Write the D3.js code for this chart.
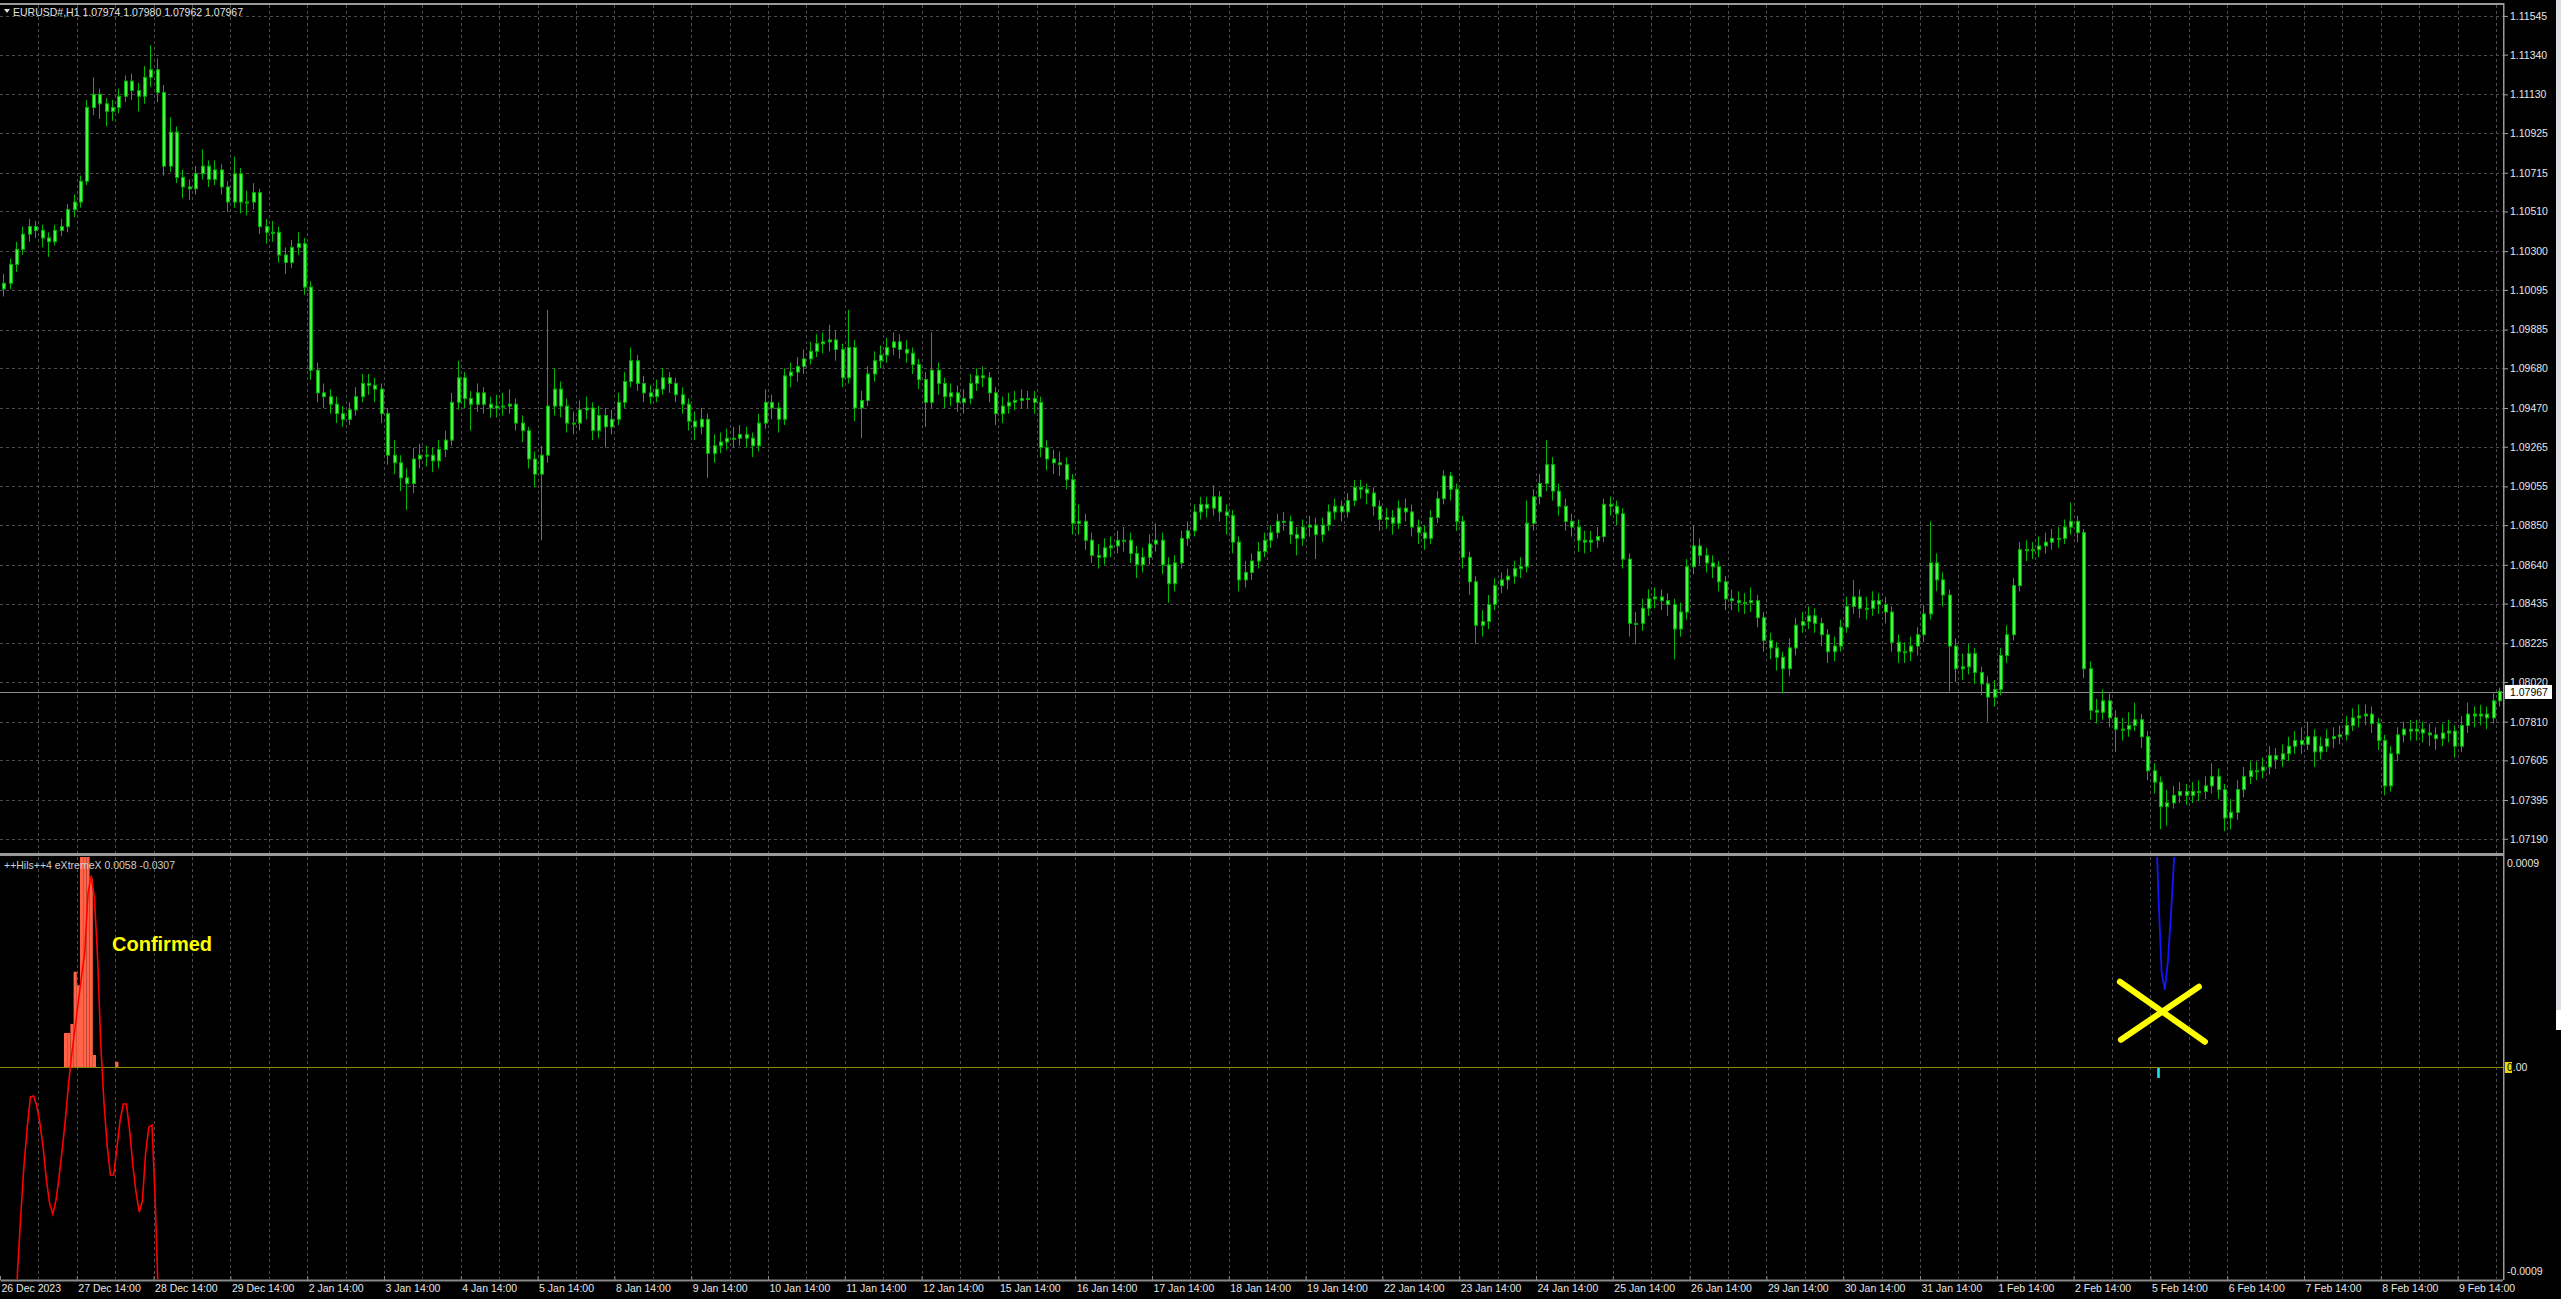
<!DOCTYPE html>
<html>
<head>
<meta charset="utf-8">
<script src="https://cdn.jsdelivr.net/npm/d3@7"></script>
<style>
html, body { margin: 0; padding: 0; background: #000; overflow: hidden; }
svg { display: block; }
text { font-family: "Liberation Sans", Arial, sans-serif; }
</style>
</head>
<body>
<div id="chart"></div>
<script>
// EURUSD# quotes, two H1 bars per candle (open = previous close)
const firstOpen = 1.1010;
const closes = [
  1.1013,1.1023,1.1031,1.1039,1.1043,1.1041,1.1037,1.1035,1.1041,1.1043,
  1.1052,1.1056,1.1067,1.1106,1.1113,1.1108,1.1104,1.1106,1.1112,1.1120,
  1.1115,1.1112,1.1122,1.1126,1.1114,1.1075,1.1093,1.1069,1.1064,1.1063,
  1.1071,1.1075,1.1068,1.1073,1.1064,1.1056,1.1071,1.1056,1.1056,1.1061,
  1.1043,1.1040,1.1040,1.1028,1.1024,1.1032,1.1034,1.1011,1.0967,1.0955,
  1.0953,1.0949,1.0944,1.0941,1.0946,1.0953,1.0960,1.0959,1.0957,1.0944,
  1.0922,1.0918,1.0910,1.0907,1.0920,1.0922,1.0922,1.0919,1.0925,1.0930,
  1.0950,1.0963,1.0952,1.0949,1.0955,1.0949,1.0947,1.0948,1.0948,1.0949,
  1.0939,1.0935,1.0920,1.0912,1.0922,1.0948,1.0957,1.0948,1.0939,1.0939,
  1.0946,1.0947,1.0935,1.0943,1.0937,1.0941,1.0950,1.0961,1.0972,1.0960,
  1.0955,1.0953,1.0957,1.0963,1.0960,1.0954,1.0949,1.0940,1.0937,1.0941,
  1.0923,1.0927,1.0929,1.0931,1.0931,1.0933,1.0931,1.0927,1.0939,1.0950,
  1.0947,1.0941,1.0964,1.0966,1.0969,1.0973,1.0977,1.0981,1.0982,1.0983,
  1.0978,1.0963,1.0979,1.0947,1.0951,1.0965,1.0972,1.0975,1.0979,1.0982,
  1.0978,1.0976,1.0970,1.0962,1.0950,1.0967,1.0960,1.0953,1.0955,1.0950,
  1.0952,1.0960,1.0964,1.0963,1.0955,1.0944,1.0948,1.0950,1.0951,1.0952,
  1.0952,1.0950,1.0926,1.0920,1.0918,1.0917,1.0909,1.0886,1.0887,1.0877,
  1.0869,1.0868,1.0873,1.0874,1.0877,1.0877,1.0870,1.0864,1.0868,1.0875,
  1.0877,1.0864,1.0854,1.0865,1.0878,1.0882,1.0892,1.0896,1.0894,1.0900,
  1.0892,1.0890,1.0876,1.0856,1.0860,1.0866,1.0871,1.0877,1.0881,1.0887,
  1.0887,1.0880,1.0878,1.0884,1.0885,1.0880,1.0885,1.0892,1.0895,1.0892,
  1.0898,1.0905,1.0904,1.0902,1.0895,1.0888,1.0889,1.0886,1.0894,1.0892,
  1.0884,1.0881,1.0878,1.0889,1.0899,1.0911,1.0904,1.0887,1.0868,1.0855,
  1.0832,1.0834,1.0843,1.0853,1.0856,1.0858,1.0862,1.0863,1.0886,1.0900,
  1.0907,1.0917,1.0903,1.0895,1.0887,1.0884,1.0877,1.0876,1.0877,1.0879,
  1.0896,1.0895,1.0891,1.0867,1.0833,1.0833,1.0841,1.0846,1.0847,1.0845,
  1.0843,1.0830,1.0839,1.0863,1.0874,1.0869,1.0865,1.0863,1.0855,1.0846,
  1.0845,1.0844,1.0844,1.0845,1.0836,1.0824,1.0820,1.0815,1.0809,1.0820,
  1.0832,1.0834,1.0837,1.0833,1.0827,1.0818,1.0821,1.0831,1.0842,1.0847,
  1.0841,1.0841,1.0845,1.0843,1.0839,1.0823,1.0818,1.0818,1.0821,1.0827,
  1.0838,1.0865,1.0856,1.0848,1.0821,1.0809,1.0810,1.0817,1.0807,1.0801,
  1.0794,1.0798,1.0816,1.0827,1.0853,1.0872,1.0872,1.0872,1.0874,1.0876,
  1.0878,1.0878,1.0884,1.0887,1.0881,1.0809,1.0787,1.0786,1.0792,1.0783,
  1.0777,1.0777,1.0779,1.0782,1.0773,1.0755,1.0749,1.0736,1.0738,1.0742,
  1.0744,1.0742,1.0744,1.0744,1.0747,1.0752,1.0745,1.0730,1.0733,1.0745,
  1.0752,1.0755,1.0755,1.0757,1.0763,1.0761,1.0764,1.0768,1.0771,1.0769,
  1.0773,1.0765,1.0768,1.0772,1.0773,1.0774,1.0779,1.0783,1.0784,1.0785,
  1.0780,1.0771,1.0747,1.0764,1.0774,1.0777,1.0776,1.0777,1.0775,1.0774,
  1.0772,1.0775,1.0776,1.0768,1.0779,1.0785,1.0784,1.0785,1.0783,1.0792,1.0797
];
const highs = [
  1.1018,1.1026,1.1035,1.1043,1.1047,1.1046,1.1044,1.1040,1.1044,1.1047,
  1.1055,1.1060,1.1070,1.1110,1.1122,1.1116,1.1111,1.1110,1.1116,1.1123,
  1.1124,1.1119,1.1128,1.1139,1.1132,1.1118,1.1101,1.1096,1.1073,1.1068,
  1.1075,1.1084,1.1078,1.1078,1.1076,1.1067,1.1080,1.1074,1.1062,1.1066,
  1.1063,1.1047,1.1046,1.1043,1.1032,1.1036,1.1040,1.1037,1.1014,1.0971,
  1.0960,1.0957,1.0953,1.0948,1.0950,1.0958,1.0965,1.0965,1.0963,1.0960,
  1.0947,1.0930,1.0922,1.0915,1.0926,1.0928,1.0927,1.0926,1.0930,1.0935,
  1.0955,1.0972,1.0966,1.0956,1.0960,1.0958,1.0953,1.0954,1.0955,1.0957,
  1.0952,1.0943,1.0937,1.0924,1.0927,1.0999,1.0968,1.0961,1.0952,1.0945,
  1.0951,1.0953,1.0950,1.0948,1.0947,1.0946,1.0955,1.0966,1.0979,1.0975,
  1.0964,1.0959,1.0962,1.0968,1.0966,1.0963,1.0958,1.0952,1.0945,1.0947,
  1.0944,1.0933,1.0934,1.0936,1.0937,1.0938,1.0937,1.0934,1.0944,1.0957,
  1.0954,1.0950,1.0968,1.0971,1.0974,1.0978,1.0982,1.0986,1.0987,1.0991,
  1.0988,1.0981,1.0999,1.0983,1.0956,1.0969,1.0977,1.0980,1.0984,1.0987,
  1.0986,1.0983,1.0979,1.0973,1.0966,1.0987,1.0971,1.0963,1.0960,1.0959,
  1.0957,1.0965,1.0968,1.0969,1.0966,1.0958,1.0953,1.0955,1.0956,1.0957,
  1.0956,1.0956,1.0953,1.0930,1.0925,1.0924,1.0921,1.0912,1.0896,1.0891,
  1.0881,1.0875,1.0878,1.0879,1.0882,1.0884,1.0881,1.0874,1.0873,1.0880,
  1.0886,1.0881,1.0868,1.0869,1.0882,1.0887,1.0896,1.0900,1.0900,1.0906,
  1.0903,1.0896,1.0893,1.0879,1.0866,1.0870,1.0876,1.0881,1.0885,1.0891,
  1.0892,1.0890,1.0884,1.0888,1.0890,1.0889,1.0889,1.0896,1.0899,1.0898,
  1.0902,1.0909,1.0909,1.0907,1.0905,1.0898,1.0894,1.0893,1.0898,1.0899,
  1.0896,1.0888,1.0885,1.0893,1.0903,1.0914,1.0913,1.0907,1.0890,1.0871,
  1.0858,1.0840,1.0848,1.0857,1.0860,1.0862,1.0866,1.0868,1.0898,1.0904,
  1.0912,1.0930,1.0921,1.0907,1.0899,1.0891,1.0888,1.0882,1.0882,1.0884,
  1.0899,1.0900,1.0898,1.0894,1.0870,1.0839,1.0846,1.0851,1.0852,1.0851,
  1.0849,1.0846,1.0844,1.0867,1.0885,1.0878,1.0873,1.0869,1.0866,1.0858,
  1.0851,1.0850,1.0849,1.0852,1.0848,1.0839,1.0828,1.0823,1.0818,1.0825,
  1.0836,1.0839,1.0842,1.0841,1.0836,1.0830,1.0826,1.0835,1.0847,1.0856,
  1.0851,1.0847,1.0850,1.0849,1.0847,1.0842,1.0827,1.0823,1.0826,1.0831,
  1.0843,1.0887,1.0870,1.0860,1.0851,1.0825,1.0817,1.0822,1.0820,1.0810,
  1.0805,1.0803,1.0820,1.0832,1.0857,1.0876,1.0877,1.0876,1.0879,1.0881,
  1.0883,1.0884,1.0888,1.0897,1.0890,1.0883,1.0813,1.0793,1.0798,1.0796,
  1.0787,1.0783,1.0786,1.0791,1.0785,1.0776,1.0759,1.0752,1.0745,1.0747,
  1.0749,1.0748,1.0749,1.0750,1.0752,1.0759,1.0756,1.0748,1.0740,1.0750,
  1.0757,1.0760,1.0760,1.0762,1.0768,1.0767,1.0769,1.0773,1.0776,1.0778,
  1.0781,1.0777,1.0773,1.0777,1.0778,1.0779,1.0784,1.0788,1.0790,1.0790,
  1.0789,1.0783,1.0774,1.0768,1.0778,1.0781,1.0782,1.0782,1.0781,1.0780,
  1.0778,1.0780,1.0782,1.0779,1.0784,1.0791,1.0789,1.0790,1.0789,1.0796,1.0799
];
const lows = [
  1.1006,1.1010,1.1019,1.1028,1.1035,1.1037,1.1032,1.1027,1.1033,1.1038,
  1.1040,1.1048,1.1053,1.1065,1.1102,1.1100,1.1096,1.1099,1.1103,1.1109,
  1.1110,1.1104,1.1108,1.1117,1.1109,1.1070,1.1072,1.1066,1.1058,1.1057,
  1.1060,1.1068,1.1064,1.1065,1.1060,1.1051,1.1053,1.1050,1.1049,1.1052,
  1.1039,1.1034,1.1035,1.1024,1.1018,1.1021,1.1028,1.1007,1.0962,1.0950,
  1.0947,1.0944,1.0939,1.0937,1.0938,1.0943,1.0950,1.0954,1.0950,1.0939,
  1.0917,1.0912,1.0903,1.0893,1.0902,1.0915,1.0916,1.0913,1.0915,1.0921,
  1.0927,1.0946,1.0947,1.0935,1.0945,1.0944,1.0942,1.0942,1.0943,1.0944,
  1.0935,1.0929,1.0915,1.0905,1.0877,1.0918,1.0943,1.0942,1.0934,1.0933,
  1.0935,1.0941,1.0930,1.0931,1.0926,1.0933,1.0938,1.0947,1.0958,1.0956,
  1.0950,1.0949,1.0950,1.0954,1.0955,1.0950,1.0944,1.0935,1.0930,1.0933,
  1.0910,1.0918,1.0923,1.0925,1.0926,1.0927,1.0926,1.0921,1.0924,1.0936,
  1.0941,1.0934,1.0938,1.0958,1.0961,1.0965,1.0970,1.0974,1.0976,1.0977,
  1.0972,1.0958,1.0960,1.0940,1.0931,1.0948,1.0961,1.0968,1.0971,1.0975,
  1.0973,1.0971,1.0965,1.0957,1.0937,1.0947,1.0954,1.0947,1.0948,1.0945,
  1.0944,1.0949,1.0956,1.0958,1.0950,1.0938,1.0939,1.0944,1.0946,1.0947,
  1.0947,1.0944,1.0921,1.0914,1.0912,1.0911,1.0904,1.0880,1.0880,1.0872,
  1.0865,1.0862,1.0864,1.0868,1.0870,1.0871,1.0865,1.0857,1.0860,1.0864,
  1.0871,1.0859,1.0844,1.0850,1.0862,1.0874,1.0879,1.0888,1.0889,1.0890,
  1.0887,1.0880,1.0870,1.0850,1.0852,1.0856,1.0862,1.0868,1.0873,1.0878,
  1.0882,1.0875,1.0869,1.0874,1.0879,1.0867,1.0876,1.0882,1.0888,1.0887,
  1.0889,1.0895,1.0899,1.0896,1.0890,1.0882,1.0883,1.0880,1.0883,1.0887,
  1.0879,1.0875,1.0872,1.0875,1.0886,1.0896,1.0898,1.0882,1.0862,1.0848,
  1.0822,1.0826,1.0830,1.0840,1.0849,1.0851,1.0854,1.0857,1.0860,1.0882,
  1.0896,1.0903,1.0898,1.0890,1.0882,1.0879,1.0871,1.0870,1.0871,1.0873,
  1.0876,1.0890,1.0885,1.0862,1.0826,1.0822,1.0829,1.0837,1.0841,1.0840,
  1.0837,1.0814,1.0826,1.0835,1.0859,1.0864,1.0860,1.0857,1.0850,1.0840,
  1.0840,1.0839,1.0838,1.0839,1.0831,1.0818,1.0814,1.0808,1.0796,1.0805,
  1.0816,1.0828,1.0830,1.0828,1.0821,1.0812,1.0813,1.0818,1.0828,1.0838,
  1.0836,1.0835,1.0837,1.0838,1.0833,1.0818,1.0812,1.0812,1.0813,1.0816,
  1.0823,1.0835,1.0850,1.0842,1.0797,1.0802,1.0803,1.0806,1.0801,1.0795,
  1.0781,1.0789,1.0795,1.0812,1.0824,1.0850,1.0866,1.0867,1.0868,1.0870,
  1.0872,1.0873,1.0875,1.0880,1.0876,1.0804,1.0782,1.0780,1.0782,1.0778,
  1.0765,1.0771,1.0773,1.0776,1.0767,1.0750,1.0743,1.0724,1.0726,1.0735,
  1.0738,1.0737,1.0738,1.0739,1.0740,1.0743,1.0740,1.0723,1.0724,1.0729,
  1.0741,1.0748,1.0750,1.0751,1.0753,1.0756,1.0757,1.0760,1.0764,1.0764,
  1.0766,1.0757,1.0761,1.0765,1.0767,1.0769,1.0771,1.0776,1.0778,1.0779,
  1.0775,1.0766,1.0742,1.0744,1.0760,1.0770,1.0771,1.0771,1.0770,1.0768,
  1.0766,1.0768,1.0770,1.0762,1.0765,1.0775,1.0778,1.0779,1.0777,1.0780,1.0789
];

const timeLabels = [
  "26 Dec 2023","27 Dec 14:00","28 Dec 14:00","29 Dec 14:00","2 Jan 14:00","3 Jan 14:00",
  "4 Jan 14:00","5 Jan 14:00","8 Jan 14:00","9 Jan 14:00","10 Jan 14:00","11 Jan 14:00",
  "12 Jan 14:00","15 Jan 14:00","16 Jan 14:00","17 Jan 14:00","18 Jan 14:00","19 Jan 14:00",
  "22 Jan 14:00","23 Jan 14:00","24 Jan 14:00","25 Jan 14:00","26 Jan 14:00","29 Jan 14:00",
  "30 Jan 14:00","31 Jan 14:00","1 Feb 14:00","2 Feb 14:00","5 Feb 14:00","6 Feb 14:00",
  "7 Feb 14:00","8 Feb 14:00","9 Feb 14:00"
];
const priceTicks = [
  1.11545,1.11340,1.11130,1.10925,1.10715,1.10510,1.10300,1.10095,1.09885,1.09680,1.09470,
  1.09265,1.09055,1.08850,1.08640,1.08435,1.08225,1.08020,1.07810,1.07605,1.07395,1.07190
];
const lastPrice = 1.07967;
const headerText = "EURUSD#,H1  1.07974 1.07980 1.07962 1.07967";
const indicatorText = "++Hils++4 eXtremeX 0.0058 -0.0307";
const oscTicks = [0.0009, -0.0009];
const oscTickLabels = ["0.0009", "-0.0009"];
const zeroLevel = 0;

// indicator buffers, indexed by hourly bar
const redLineStart = 4;
const redLine = [
  -0.00120,-0.000895,-0.000653,-0.000432,-0.000269,-0.000132,-0.000128,-0.000172,-0.000251,-0.000357,
  -0.000498,-0.000600,-0.000648,-0.000587,-0.000481,-0.000357,-0.000221,-0.000062,0.000066,0.000176,
  0.000291,0.000401,0.000507,0.000767,0.000842,0.000745,0.000481,0.000097,-0.000159,-0.000348,
  -0.000476,-0.000476,-0.000362,-0.000238,-0.000163,-0.000163,-0.000278,-0.000432,-0.000551,-0.000639,
  -0.000591,-0.000379,-0.000265,-0.000256,-0.000587,-0.00103,-0.00147
];
const histUpStart = 20;
const histUp = [0.00015,0.00015,0.00019,0.00042,0.00036,0.0012,0.0015,0.0011,0.00083,0.000053,0,0,0,0,0,0,0.000023];
const blueLineStart = 673;
const blueLine = [0.00118,0.00076,0.00042,0.00034,0.00047,0.00069,0.00094,0.0012];
const histDownStart = 674;
const histDown = [-0.000044];
const crossMark = { h: 675.1, v: 0.000248 };
const confirmedMark = { h: 34.5, v: 0.00051, text: "Confirmed" };

// ---------------------------------------------------------------
const W = 2561, H = 1299;
const plotRight = 2503;
const mainTop = 5, mainBottom = 853;
const subTop = 857, subBottom = 1279;

const svg = d3.select("#chart").append("svg")
  .attr("width", W).attr("height", H)
  .style("background", "#000");

const x = d3.scaleLinear().domain([0, 391]).range([0, 2502.4]);
const xHour = h => x((h + 0.5) / 2);
const y = d3.scaleLinear().domain([1.07120, 1.11587]).range([852, 8]);
const yInd = d3.scaleLinear().domain([-0.00093, 0.00093]).range([1278, 856]);

const defs = svg.append("defs");
defs.append("clipPath").attr("id", "clipMain").append("rect")
  .attr("x", 0).attr("y", mainTop).attr("width", plotRight).attr("height", mainBottom - mainTop);
defs.append("clipPath").attr("id", "clipSub").append("rect")
  .attr("x", 0).attr("y", subTop).attr("width", plotRight).attr("height", subBottom - subTop);

// grid
const vGrid = d3.range(6, 391, 6);
const gridMain = svg.append("g").attr("stroke", "#4d4d4d").attr("stroke-dasharray", "3,3");
gridMain.selectAll("line.h").data(priceTicks).join("line").attr("class", "h")
  .attr("x1", 0).attr("x2", plotRight)
  .attr("y1", d => Math.round(y(d)) + 0.5).attr("y2", d => Math.round(y(d)) + 0.5);
gridMain.selectAll("line.v").data(vGrid).join("line").attr("class", "v")
  .attr("x1", d => Math.round(x(d)) + 0.5).attr("x2", d => Math.round(x(d)) + 0.5)
  .attr("y1", mainTop).attr("y2", mainBottom);
const gridSub = svg.append("g").attr("stroke", "#4d4d4d").attr("stroke-dasharray", "3,3");
gridSub.selectAll("line").data(vGrid).join("line")
  .attr("x1", d => Math.round(x(d)) + 0.5).attr("x2", d => Math.round(x(d)) + 0.5)
  .attr("y1", subTop).attr("y2", subBottom);

// current price line
svg.append("line")
  .attr("x1", 0).attr("x2", plotRight)
  .attr("y1", Math.round(y(lastPrice)) + 0.5).attr("y2", Math.round(y(lastPrice)) + 0.5)
  .attr("stroke", "#8c8c8c");

// candles
const bars = closes.map((c, i) => ({ i, o: i === 0 ? firstOpen : closes[i - 1], c, h: highs[i], l: lows[i] }));
const candleG = svg.append("g").attr("clip-path", "url(#clipMain)");
candleG.selectAll("line").data(bars).join("line")
  .attr("x1", d => Math.round(x(d.i + 0.5)) + 0.5)
  .attr("x2", d => Math.round(x(d.i + 0.5)) + 0.5)
  .attr("y1", d => y(d.h)).attr("y2", d => y(d.l))
  .attr("stroke", "#00b800");
candleG.selectAll("rect").data(bars).join("rect")
  .attr("x", d => Math.round(x(d.i + 0.5)) - 0.5)
  .attr("width", 3)
  .attr("y", d => y(Math.max(d.o, d.c)))
  .attr("height", d => Math.max(1, Math.abs(y(d.o) - y(d.c))))
  .attr("fill", "#4cf24c")
  .attr("stroke", "#00b000")
  .attr("stroke-width", 1);

// indicator window
const sub = svg.append("g").attr("clip-path", "url(#clipSub)");
sub.append("line")
  .attr("x1", 0).attr("x2", plotRight)
  .attr("y1", Math.round(yInd(zeroLevel)) + 0.5).attr("y2", Math.round(yInd(zeroLevel)) + 0.5)
  .attr("stroke", "#8b8b00");

const upData = histUp.map((v, j) => ({ h: histUpStart + j, v })).filter(d => d.v !== 0);
sub.selectAll("rect.up").data(upData).join("rect").attr("class", "up")
  .attr("x", d => x(d.h / 2)).attr("width", x(0.5) - x(0))
  .attr("y", d => yInd(d.v)).attr("height", d => yInd(0) - yInd(d.v))
  .attr("fill", "#ff6347");

const downData = histDown.map((v, j) => ({ h: histDownStart + j, v }));
sub.selectAll("rect.down").data(downData).join("rect").attr("class", "down")
  .attr("x", d => xHour(d.h) - 1.2).attr("width", 2.6)
  .attr("y", yInd(0) + 1).attr("height", d => yInd(d.v) - yInd(0))
  .attr("fill", "#19e6f0");

const oscLine = d3.line().x(d => xHour(d.h)).y(d => yInd(d.v));
sub.append("path")
  .attr("d", oscLine(redLine.map((v, j) => ({ h: redLineStart + j, v }))))
  .attr("fill", "none").attr("stroke", "#ff0000").attr("stroke-width", 1.6);
sub.append("path")
  .attr("d", oscLine(blueLine.map((v, j) => ({ h: blueLineStart + j, v }))))
  .attr("fill", "none").attr("stroke", "#1414ff").attr("stroke-width", 1.8);

const cross = sub.append("g")
  .attr("transform", `translate(${xHour(crossMark.h)},${yInd(crossMark.v)})`)
  .attr("stroke", "#ffff00").attr("stroke-width", 6).attr("stroke-linecap", "round");
cross.append("line").attr("x1", -42).attr("y1", -29).attr("x2", 43).attr("y2", 31);
cross.append("line").attr("x1", -41).attr("y1", 29).attr("x2", 37).attr("y2", -24);

svg.append("text")
  .attr("x", xHour(confirmedMark.h)).attr("y", yInd(confirmedMark.v))
  .attr("fill", "#ffff00").attr("font-size", 20).attr("font-weight", "bold")
  .text(confirmedMark.text);

// frames
const frame = svg.append("g").attr("fill", "#9a9a9a");
frame.append("rect").attr("x", 0).attr("y", 3).attr("width", plotRight + 1).attr("height", 2);
frame.append("rect").attr("x", plotRight).attr("y", 3).attr("width", 1.5).attr("height", subBottom - 2);
frame.append("rect").attr("x", 0).attr("y", mainBottom).attr("width", plotRight + 1).attr("height", 3);

// price axis
const yAxis = d3.axisRight(y).tickValues(priceTicks).tickFormat(d3.format(".5f"))
  .tickSizeInner(4).tickSizeOuter(0).tickPadding(2);
const gy = svg.append("g").attr("transform", `translate(${plotRight + 1},0)`).call(yAxis);
gy.select(".domain").remove();
gy.selectAll(".tick line").attr("stroke", "#a0a0a0");
gy.selectAll(".tick text").attr("fill", "#e6e6e6")
  .style("font-family", '"Liberation Sans", Arial, sans-serif').style("font-size", "10.5px");

// last price label
const lp = svg.append("g").attr("transform", `translate(${plotRight + 2},${y(lastPrice)})`);
lp.append("rect").attr("x", 0).attr("y", -7).attr("width", 47).attr("height", 14).attr("fill", "#ffffff");
lp.append("text").attr("x", 5).attr("y", 4).attr("fill", "#000").attr("font-size", 10.5).text(d3.format(".5f")(lastPrice));

// oscillator scale
svg.selectAll("text.osc").data(oscTicks).join("text").attr("class", "osc")
  .attr("x", plotRight + 4).attr("y", d => yInd(d) + 4)
  .attr("fill", "#e6e6e6").attr("font-size", 10.5)
  .text((d, i) => oscTickLabels[i]);
svg.append("rect")
  .attr("x", plotRight + 2).attr("y", yInd(zeroLevel) - 5).attr("width", 7).attr("height", 11)
  .attr("fill", "#e8d800");
const zeroText = svg.append("text").attr("x", plotRight + 4).attr("y", yInd(zeroLevel) + 4)
  .attr("font-size", 10.5);
zeroText.append("tspan").attr("fill", "#000").text("0");
zeroText.append("tspan").attr("fill", "#e6e6e6").text(".00");

// time axis
const xAxis = d3.axisBottom(x)
  .tickValues(timeLabels.map((_, i) => i * 12))
  .tickFormat((d, i) => timeLabels[i])
  .tickSizeInner(-4).tickSizeOuter(0).tickPadding(0);
const gx = svg.append("g").attr("transform", `translate(0,${subBottom + 1})`).call(xAxis);
gx.select(".domain").attr("stroke", "#8a8a8a").attr("stroke-width", 2);
gx.selectAll(".tick line").attr("stroke", "#8a8a8a");
gx.selectAll(".tick text")
  .attr("text-anchor", "start").attr("x", 1).attr("y", 5).attr("dy", "0.71em")
  .attr("fill", "#e6e6e6")
  .style("font-family", '"Liberation Sans", Arial, sans-serif').style("font-size", "10.5px");

// titles
svg.append("path").attr("d", "M4,9 L10,9 L7,13 Z").attr("fill", "#e0e0e0");
svg.append("text").attr("x", 13).attr("y", 16).attr("fill", "#e0e0e0").attr("font-size", 10.5).text(headerText);
svg.append("text").attr("x", 4).attr("y", 869).attr("fill", "#d0d0d0").attr("font-size", 10.5).text(indicatorText);

// neighbouring window edge at far right
svg.append("rect").attr("x", 2556).attr("y", 0).attr("width", 5).attr("height", 1010).attr("fill", "#dcdfe4");
svg.append("rect").attr("x", 2556).attr("y", 1010).attr("width", 5).attr("height", 20).attr("fill", "#ffffff");
</script>
</body>
</html>
